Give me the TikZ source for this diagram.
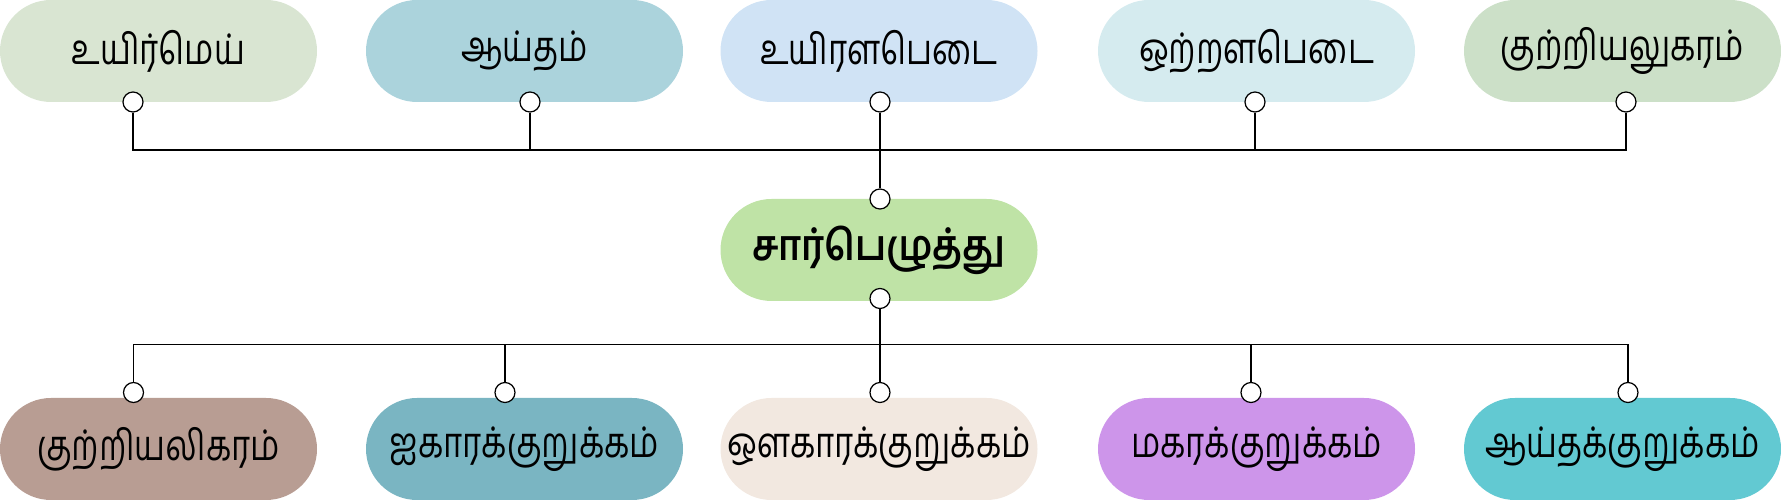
\documentclass[tikz,border=0pt]{standalone}
\usepackage{fontspec}
\newfontfamily\tamilfont[Script=Tamil, FakeStretch=0.78]{Hind Madurai}
\newfontfamily\tamilheavy[Script=Tamil, FakeStretch=0.88]{Hind Madurai}
\usetikzlibrary{positioning}

\definecolor{uyirmei}{HTML}{D9E5D2}
\definecolor{aaytham}{HTML}{ABD3DC}
\definecolor{uyiralabedai}{HTML}{D0E3F5}
\definecolor{otralabedai}{HTML}{D5EBEF}
\definecolor{kutriyalukaram}{HTML}{CCE0C8}
\definecolor{saarbezhuthu}{HTML}{BFE3A6}
\definecolor{kutriyalikaram}{HTML}{B89D93}
\definecolor{aikaaram}{HTML}{7AB5C2}
\definecolor{aukaaram}{HTML}{F2E8E0}
\definecolor{makaram}{HTML}{CD95EA}
\definecolor{aaythakurukkam}{HTML}{62C9D2}

\tikzset{
    pill/.style={rectangle, rounded corners=1.02cm, minimum width=6.34cm, minimum height=2.04cm,
        inner sep=0pt, font=\tamilfont\fontsize{24}{28}\selectfont},
    knob/.style={circle, draw, fill=white, inner sep=0pt, minimum size=0.4cm, line width=0.7pt},
    wire/.style={line width=0.7pt}
}

\begin{document}
\begin{tikzpicture}
    \useasboundingbox (0cm,0cm) rectangle (35.62cm,10cm);

    % top row
    \node[pill, fill=uyirmei] (uyirmei) at (3.17cm, 8.98cm) {உயிர்மெய்};
    \node[pill, fill=aaytham] (aaytham) at (10.49cm, 8.98cm) {ஆய்தம்};
    \node[pill, fill=uyiralabedai] (uyiralabedai) at (17.58cm, 8.98cm) {உயிரளபெடை};
    \node[pill, fill=otralabedai] (otralabedai) at (25.13cm, 8.98cm) {ஒற்றளபெடை};
    \node[pill, fill=kutriyalukaram] (kutriyalukaram) at (32.45cm, 8.98cm) {குற்றியலுகரம்};

    % centre
    \node[pill, fill=saarbezhuthu, font=\tamilheavy\bfseries\fontsize{24}{28}\selectfont] (saarbezhuthu) at (17.58cm, 5cm) {சார்பெழுத்து};

    % bottom row
    \node[pill, fill=kutriyalikaram] (kutriyalikaram) at (3.17cm, 1.02cm) {குற்றியலிகரம்};
    \node[pill, fill=aikaaram] (aikaaram) at (10.49cm, 1.02cm) {ஐகாரக்குறுக்கம்};
    \node[pill, fill=aukaaram] (aukaaram) at (17.58cm, 1.02cm) {ஔகாரக்குறுக்கம்};
    \node[pill, fill=makaram] (makaram) at (25.13cm, 1.02cm) {மகரக்குறுக்கம்};
    \node[pill, fill=aaythakurukkam] (aaythakurukkam) at (32.45cm, 1.02cm) {ஆய்தக்குறுக்கம்};

    % bus junctions
    \coordinate (topbus) at (17.6cm, 7cm);
    \coordinate (bottombus) at (17.6cm, 3.11cm);

    % knobs
    \node[knob] (k1) at (2.66cm, 7.96cm) {};
    \node[knob] (k2) at (10.6cm, 7.96cm) {};
    \node[knob] (k3) at (17.6cm, 7.96cm) {};
    \node[knob] (k4) at (25.1cm, 7.96cm) {};
    \node[knob] (k5) at (32.52cm, 7.96cm) {};
    \node[knob] (kin) at (17.6cm, 6.02cm) {};
    \node[knob] (kout) at (17.6cm, 4.03cm) {};
    \node[knob] (b1) at (2.67cm, 2.15cm) {};
    \node[knob] (b2) at (10.1cm, 2.15cm) {};
    \node[knob] (b3) at (17.6cm, 2.15cm) {};
    \node[knob] (b4) at (25.02cm, 2.15cm) {};
    \node[knob] (b5) at (32.56cm, 2.15cm) {};

    \draw[wire] (k1.south) |- (topbus);
    \draw[wire] (k2.south) |- (topbus);
    \draw[wire] (k3.south) -- (kin.north);
    \draw[wire] (k4.south) |- (topbus);
    \draw[wire] (k5.south) |- (topbus);

    \draw[wire] (kout.south) -- (b3.north);
    \draw[wire] (b1.north) |- (bottombus);
    \draw[wire] (b2.north) |- (bottombus);
    \draw[wire] (b4.north) |- (bottombus);
    \draw[wire] (b5.north) |- (bottombus);
\end{tikzpicture}
\end{document}
